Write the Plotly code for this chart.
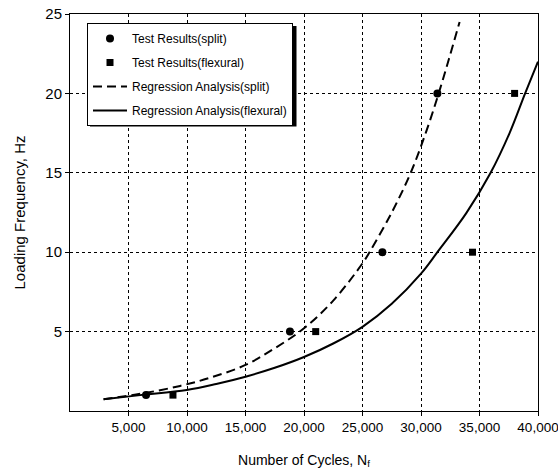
import plotly.graph_objects as go

# Test results
split_n = [6500, 18800, 26700, 31400]
split_f = [1, 5, 10, 20]
flex_n = [8800, 21000, 34400, 38000]
flex_f = [1, 5, 10, 20]

# Regression curves
reg_split_n = [2870, 6000, 9410, 12000, 15000, 17500, 20000, 22500, 25000, 25600,
               27500, 29120, 30400, 31510, 32400, 33300]
reg_split_f = [0.74, 1.08, 1.58, 2.1, 2.9, 3.95, 5.21, 6.95, 9.3, 10.0,
               12.5, 15.0, 17.5, 20.0, 22.2, 24.5]
reg_flex_n = [2870, 6000, 9980, 12500, 15000, 17500, 20000, 22500, 25000, 27500,
              30000, 31400, 33870, 35950, 37570, 38900, 40000]
reg_flex_f = [0.74, 1.0, 1.32, 1.7, 2.16, 2.72, 3.4, 4.25, 5.3, 6.75,
              8.65, 10.0, 12.46, 15.0, 17.5, 20.0, 22.0]

x_ticks = [5000, 10000, 15000, 20000, 25000, 30000, 35000, 40000]
x_labels = ["5,000", "10,000", "15,000", "20,000", "25,000", "30,000", "35,000", "40,000"]
y_ticks = [5, 10, 15, 20, 25]
y_labels = ["5", "10", "15", "20", "25"]

FONT = "Liberation Sans, Arial, Helvetica, sans-serif"

# plot area in pixels (used for the legend and its shadow placement)
L, R, T, B = 70, 538, 14, 411
W, H = 558, 475
PW, PH = R - L, B - T


def px_x(p):
    return (p - L) / PW


def px_y(p):
    return (B - p) / PH


fig = go.Figure()
fig.add_trace(go.Scatter(x=split_n, y=split_f, mode="markers", name="Test Results(split)",
                         legendgroup="a",
                         marker=dict(symbol="circle", size=8, color="black")))
fig.add_trace(go.Scatter(x=flex_n, y=flex_f, mode="markers", name="Test Results(flexural)",
                         legendgroup="b",
                         marker=dict(symbol="square", size=7, color="black")))
fig.add_trace(go.Scatter(x=reg_split_n, y=reg_split_f, mode="lines", name="Regression Analysis(split)",
                         legendgroup="c",
                         line=dict(color="black", width=2, dash="9px,5px", shape="spline")))
fig.add_trace(go.Scatter(x=reg_flex_n, y=reg_flex_f, mode="lines", name="Regression Analysis(flexural)",
                         legendgroup="d",
                         line=dict(color="black", width=2, shape="spline")))

# legend drop shadow
fig.add_shape(type="rect", xref="paper", yref="paper",
              x0=px_x(90), x1=px_x(296.5), y0=px_y(126.5), y1=px_y(26),
              fillcolor="black", line=dict(width=0), layer="above")

fig.update_layout(
    width=W, height=H,
    margin=dict(l=L, r=W - R, t=T, b=H - B, autoexpand=False),
    paper_bgcolor="white", plot_bgcolor="white",
    font=dict(family=FONT, size=14, color="black"),
    showlegend=True,
    legend=dict(x=px_x(87), y=px_y(23), xanchor="left", yanchor="top",
                bgcolor="white", bordercolor="black", borderwidth=1,
                font=dict(family=FONT, size=12, color="black"),
                tracegroupgap=5, itemwidth=34),
)
fig.update_xaxes(
    range=[0, 40000], tickvals=x_ticks, ticktext=x_labels,
    showline=True, linecolor="black", linewidth=1, mirror=True,
    showgrid=True, gridcolor="black", gridwidth=1, griddash="3px,3px",
    ticks="outside", ticklen=4, tickcolor="black",
    tickfont=dict(size=13.5), ticklabeloverflow="allow",
    zeroline=False, automargin=False,
    title=dict(text="Number of Cycles, N<sub>f</sub>", font=dict(family=FONT, size=14), standoff=20),
)
fig.update_yaxes(
    range=[0, 25], tickvals=y_ticks, ticktext=y_labels,
    showline=True, linecolor="black", linewidth=1, mirror=True,
    showgrid=True, gridcolor="black", gridwidth=1, griddash="3px,3px",
    ticks="outside", ticklen=4, tickcolor="black",
    tickfont=dict(size=15),
    zeroline=False, automargin=False,
    title=dict(text="Loading Frequency, Hz", font=dict(family=FONT, size=15), standoff=16),
)

fig.write_html("out.html")
